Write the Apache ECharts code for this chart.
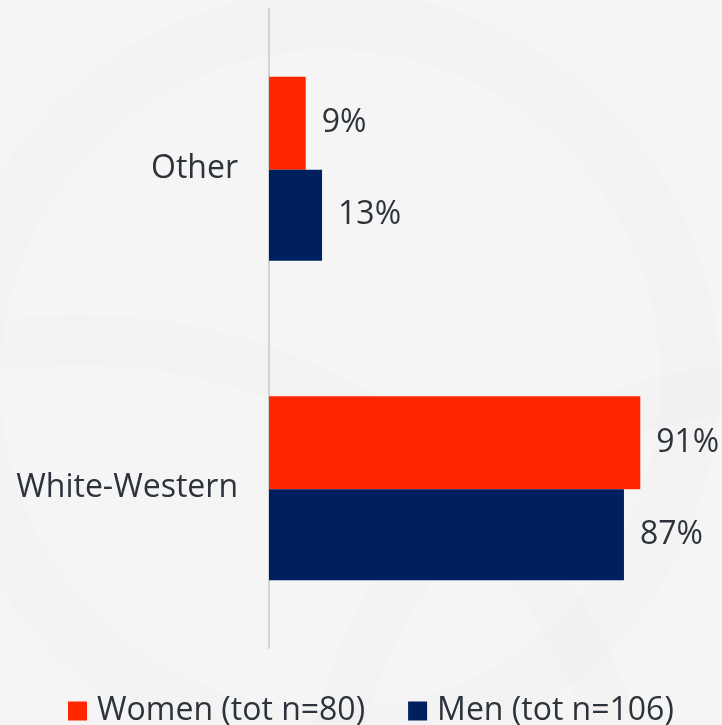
<!DOCTYPE html>
<html><head><meta charset="utf-8">
<script src="https://cdn.jsdelivr.net/npm/echarts@6/dist/echarts.min.js"></script>
<style>html,body{margin:0;padding:0;background:#f5f5f6;}#c{width:722px;height:725px;}</style>
</head><body><div id="c"></div>
<script>
var categories = ['Other', 'White-Western'];
var women = [9, 91];
var men = [13, 87];
var seriesNames = ['Women (tot n=80)', 'Men (tot n=106)'];

var chart = echarts.init(document.getElementById('c'));
var txt = '#2d333b';
var font = 'Open Sans';
chart.setOption({
  backgroundColor: '#f5f5f6',
  animation: false,
  textStyle: {fontFamily: font},
  graphic: [
    {type: 'circle', silent: true, z: -10, shape: {cx: 330, cy: 380, r: 360}, style: {fill: 'none', stroke: 'rgba(0,0,0,0.009)', lineWidth: 60}},
    {type: 'circle', silent: true, z: -10, shape: {cx: 80, cy: 900, r: 560}, style: {fill: 'none', stroke: 'rgba(255,170,60,0.02)', lineWidth: 50}},
    {type: 'circle', silent: true, z: -10, shape: {cx: 760, cy: 820, r: 430}, style: {fill: 'none', stroke: 'rgba(0,0,0,0.008)', lineWidth: 50}}
  ],
  grid: {left: 269, right: 45, top: 9, bottom: 77, containLabel: false},
  legend: {
    top: 690, left: 63,
    itemWidth: 19, itemHeight: 19, itemGap: 43,
    icon: 'rect',
    textStyle: {fontSize: 32, color: txt, fontFamily: font, padding: [0, 0, 0, 5]},
    data: seriesNames
  },
  xAxis: {type: 'value', min: 0, max: 100, show: false},
  yAxis: {
    type: 'category', data: categories, inverse: true,
    axisLine: {show: true, lineStyle: {color: '#d2d2d2', width: 2}},
    axisTick: {show: false},
    axisLabel: {fontSize: 32, color: txt, margin: 31, fontFamily: font}
  },
  series: [
    {name: seriesNames[0], type: 'bar', data: women, barWidth: 93, barGap: '0%', itemStyle: {color: '#ff2600'},
     label: {show: true, position: 'right', distance: 16, formatter: '{c}%', fontSize: 32, color: txt, fontFamily: font}},
    {name: seriesNames[1], type: 'bar', data: men, barWidth: 91, barGap: '0%', itemStyle: {color: '#001f5e'},
     label: {show: true, position: 'right', distance: 16, formatter: '{c}%', fontSize: 32, color: txt, fontFamily: font}}
  ]
});
</script></body></html>
